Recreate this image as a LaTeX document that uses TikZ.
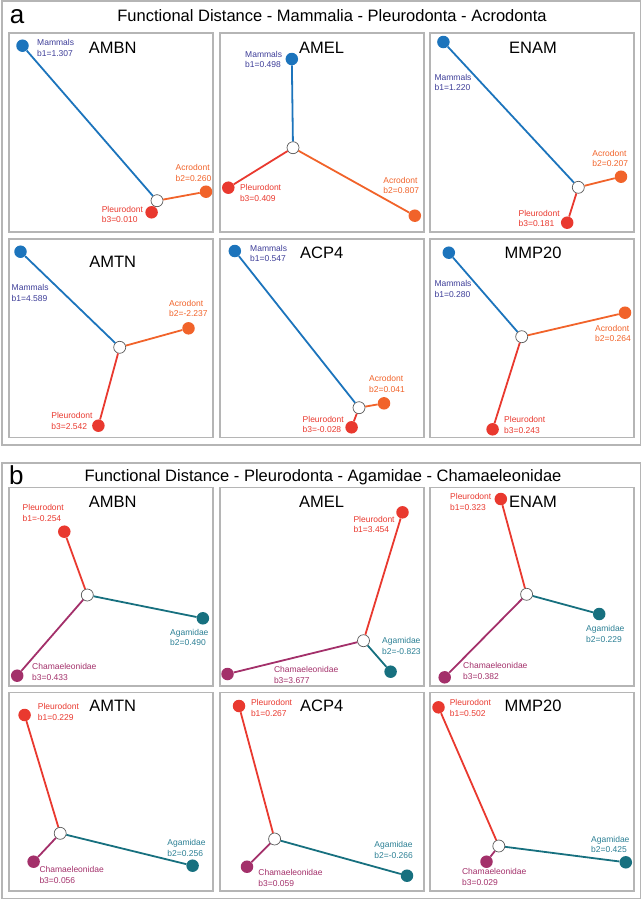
\documentclass[tikz,border=0pt]{standalone}
\usepackage{fontspec}
\setmainfont{Liberation Sans}
\definecolor{framegray}{HTML}{B5B5B5}
\definecolor{hubgray}{HTML}{5A5A5A}
\definecolor{mamcol}{HTML}{1C74BC}
\definecolor{mamtext}{HTML}{3D3D98}
\definecolor{pleucol}{HTML}{E9392F}
\definecolor{acrocol}{HTML}{F1632A}
\definecolor{agacol}{HTML}{17707F}
\definecolor{agatext}{HTML}{2B7F94}
\definecolor{chamcol}{HTML}{A3306A}

\begin{document}
\begin{tikzpicture}[x=1pt,y=-1pt]

        \tikzset{
            panel/.style={draw=framegray, line width=1.2pt},
            genebox/.style={draw=framegray, line width=1.1pt},
            leaf/.style={circle, inner sep=0pt, minimum size=12.5pt},
            hub/.style={circle, draw=hubgray, fill=white, line width=0.7pt, inner sep=0pt, minimum size=12pt},
            branch/.style={line width=1.8pt},
            lab/.style={anchor=north west, align=left, inner sep=0pt, font=\fontsize{8.5}{10.5}\selectfont},
            gene/.style={inner sep=0pt, font=\fontsize{16.5}{18}\selectfont},
            heading/.style={anchor=base, inner sep=0pt, font=\fontsize{16.5}{18}\selectfont},
            letter/.style={inner sep=0pt, font=\fontsize{26}{28}\selectfont}
        }

        \useasboundingbox (0,0) rectangle (642,900);

        % Draw frames
        \draw[panel] (2,1) rectangle (640.5,445);
        \draw[panel] (2,463) rectangle (640.5,898.5);
        \foreach \x in {9,220,430} {
            \foreach \y/\h in {33/199, 239/198.5, 487.5/198.5, 692.5/198.5} {
                \draw[genebox] (\x,\y) rectangle ++(204,\h);
            }
        }

        % Draw headings
        \node[letter] (a) at (17,16.7) {a};
        \node[heading] (a-title) at (332,21.6) {Functional Distance - Mammalia - Pleurodonta - Acrodonta};
        \node[letter] (b) at (16.4,475) {b};
        \node[heading] (b-title) at (323,481) {Functional Distance - Pleurodonta - Agamidae - Chamaeleonidae};

        \foreach \n/\x/\y/\t in {a1/112.7/48.3/AMBN, a2/321.7/48.3/AMEL, a3/533/48.3/ENAM,
                                 a4/112.7/261.7/AMTN, a5/321.7/253.3/ACP4, a6/533/253.3/MMP20,
                                 b1/112.7/501.7/AMBN, b2/321.7/501.7/AMEL, b3/533/501.7/ENAM,
                                 b4/112.7/706/AMTN, b5/321.7/706/ACP4, b6/533/706/MMP20} {
            \node[gene] (\n-gene) at (\x,\y) {\t};
        }

        % Draw trees of panel a
        \foreach \n/\mx/\my/\px/\py/\rx/\ry/\hx/\hy in {
                a1/22.5/45.7/151.6/212.3/206/191.7/157/200.7,
                a2/291.8/59/228.3/187.7/414.8/215.7/293/147.7,
                a3/443.4/42/567.2/222.7/621/176.7/578.3/187.3,
                a4/20.5/251.7/98.4/425.7/188.5/328.3/119.7/347.3,
                a5/234.8/251/351.6/427.3/384/403.3/359/407.7,
                a6/448.8/252.7/492.6/429.3/625/312.7/521.7/336.7} {
            \node[hub] (\n-h) at (\hx,\hy) {};
            \node[leaf, fill=mamcol] (\n-m) at (\mx,\my) {};
            \node[leaf, fill=pleucol] (\n-p) at (\px,\py) {};
            \node[leaf, fill=acrocol] (\n-r) at (\rx,\ry) {};
            \draw[branch, mamcol] (\n-h) -- (\n-m);
            \draw[branch, pleucol] (\n-h) -- (\n-p);
            \draw[branch, acrocol] (\n-h) -- (\n-r);
        }
        \foreach \n/\x/\y/\v in {a1/37/39.2/1.307, a2/245/50.8/0.498, a3/434.4/73.8/1.220,
                                 a4/11.5/284.2/4.589, a5/250/244.8/0.547, a6/434.4/280.5/0.280} {
            \node[lab, text=mamtext] (\n-ml) at (\x,\y) {Mammals\\b1=\v};
        }
        \foreach \n/\x/\y/\v in {a1/101.6/205.8/0.010, a2/239.8/184.2/0.409, a3/518.4/209.8/0.181,
                                 a4/51.2/412.2/2.542, a5/302.5/415.8/-0.028, a6/504/416.5/0.243} {
            \node[lab, text=pleucol] (\n-pl) at (\x,\y) {Pleurodont\\b3=\v};
        }
        \foreach \n/\x/\y/\v in {a1/175.4/164.2/0.260, a2/383.2/176.8/0.807, a3/592.2/149.8/0.207,
                                 a4/168.9/299.8/-2.237, a5/368.9/375.5/0.041, a6/595/324.8/0.264} {
            \node[lab, text=acrocol] (\n-rl) at (\x,\y) {Acrodont\\b2=\v};
        }

        % Draw trees of panel b
        \foreach \n/\px/\py/\gx/\gy/\cx/\cy/\hx/\hy in {
                b1/64.3/531.7/202.9/618.3/17.2/675.7/87.3/595,
                b2/402.5/512.3/390.6/671.7/227.5/674/363.5/640.7,
                b3/500.8/499/599.2/614/444.7/677.3/526.6/594.3,
                b4/24.6/715/192.6/865.7/33.6/861.7/60.2/833.3,
                b5/239/706/407/875.7/247/866.7/274.6/839,
                b6/438.5/707.3/625.8/862.3/486.5/861.7/498.8/846} {
            \node[hub] (\n-h) at (\hx,\hy) {};
            \node[leaf, fill=pleucol] (\n-p) at (\px,\py) {};
            \node[leaf, fill=agacol] (\n-g) at (\gx,\gy) {};
            \node[leaf, fill=chamcol] (\n-c) at (\cx,\cy) {};
            \draw[branch, pleucol] (\n-h) -- (\n-p);
            \draw[branch, agacol] (\n-h) -- (\n-g);
            \draw[branch, chamcol] (\n-h) -- (\n-c);
        }
        \foreach \n/\x/\y/\v in {b1/22.5/504.2/-0.254, b2/353.3/515.8/3.454, b3/450/493.2/0.323,
                                 b4/37.7/703.2/0.229, b5/250.8/699.2/0.267, b6/449.6/699.2/0.502} {
            \node[lab, text=pleucol] (\n-pl) at (\x,\y) {Pleurodont\\b1=\v};
        }
        \foreach \n/\x/\y/\v in {b1/170/628.8/0.490, b2/382/637.5/-0.823, b3/586/625.5/0.229,
                                 b4/167.2/839.2/0.256, b5/374.2/841.5/-0.266, b6/591/835.8/0.425} {
            \node[lab, text=agatext] (\n-gl) at (\x,\y) {Agamidae\\b2=\v};
        }
        \foreach \n/\x/\y/\v in {b1/32/663.2/0.433, b2/273.8/666.5/3.677, b3/463/662.5/0.382,
                                 b4/39.3/866.5/0.056, b5/258.2/869.2/0.059, b6/461.9/868.2/0.029} {
            \node[lab, text=chamcol] (\n-cl) at (\x,\y) {Chamaeleonidae\\b3=\v};
        }

    \end{tikzpicture}
\end{document}
